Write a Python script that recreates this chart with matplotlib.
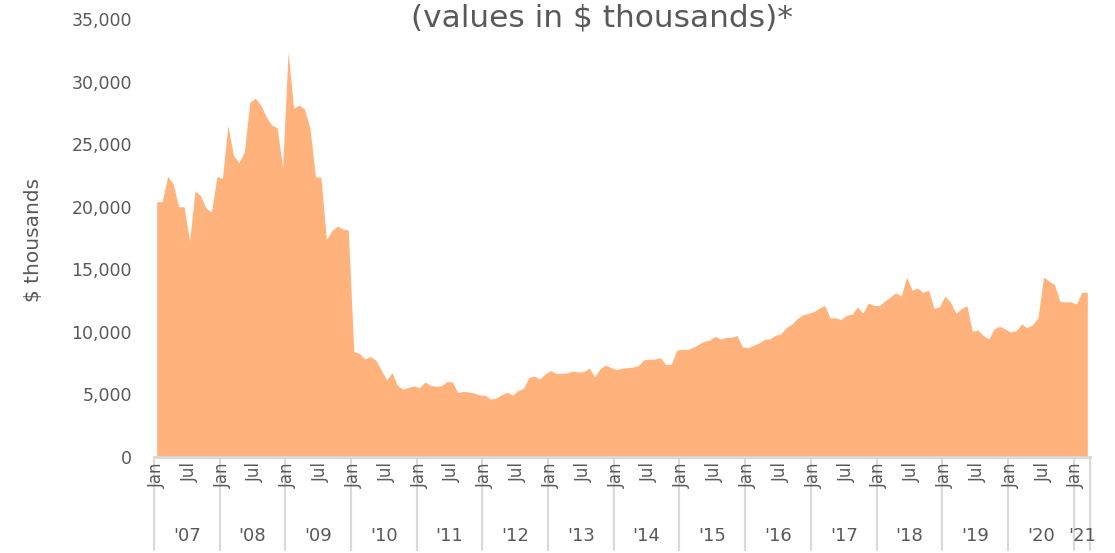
import matplotlib
matplotlib.use("Agg")
import matplotlib.pyplot as plt
from matplotlib.ticker import FuncFormatter
import matplotlib.transforms as mtransforms

# valores mensuales, ene 2007 - mar 2021 ($ miles)
v2007 = [20400, 20400, 22430, 21840, 20000, 20000, 17260, 21280, 20880, 19870, 19600, 22400]
v2008 = [22270, 26500, 24130, 23520, 24350, 28340, 28680, 28120, 27190, 26530, 26310, 23120]
v2009 = [32380, 27860, 28120, 27800, 26270, 22400, 22330, 17390, 18080, 18460, 18220, 18140]
v2010 = [8420, 8290, 7830, 8020, 7760, 6960, 6160, 6740, 5700, 5410, 5570, 5680]
v2011 = [5540, 5980, 5730, 5650, 5700, 6020, 6000, 5140, 5250, 5190, 5110, 4950]
v2012 = [4930, 4630, 4710, 4980, 5170, 4950, 5300, 5490, 6370, 6470, 6230, 6660]
v2013 = [6900, 6660, 6710, 6710, 6870, 6790, 6820, 7110, 6400, 7050, 7350, 7140]
v2014 = [6980, 7090, 7140, 7190, 7300, 7780, 7810, 7830, 7940, 7380, 7410, 8530]
v2015 = [8610, 8580, 8770, 9010, 9240, 9350, 9640, 9430, 9560, 9560, 9720, 8810]
v2016 = [8730, 8920, 9110, 9390, 9440, 9720, 9830, 10360, 10600, 11050, 11350, 11480]
v2017 = [11610, 11880, 12120, 11110, 11130, 10970, 11320, 11400, 11990, 11500, 12300, 12120]
v2018 = [12090, 12460, 12780, 13130, 12860, 14360, 13340, 13500, 13130, 13340, 11880, 12010]
v2019 = [12860, 12380, 11480, 11850, 12090, 10040, 10150, 9700, 9430, 10260, 10440, 10230]
v2020 = [9990, 10090, 10630, 10330, 10570, 11130, 14380, 14060, 13770, 12440, 12380, 12410]
v2021 = [12220, 13160, 13160]

anios = ["'07", "'08", "'09", "'10", "'11", "'12", "'13", "'14", "'15", "'16",
         "'17", "'18", "'19", "'20", "'21"]
por_anio = [v2007, v2008, v2009, v2010, v2011, v2012, v2013, v2014, v2015, v2016,
            v2017, v2018, v2019, v2020, v2021]

valores = []
for a in por_anio:
    valores += a
x = list(range(len(valores)))

gris = "#595959"
fig = plt.figure(figsize=(11.15, 5.53), dpi=100)
ax = fig.add_axes([0.1381, 0.1736, 0.8395, 0.792])

ax.fill_between(x, valores, 0, color="#FFB27B", linewidth=0)
ax.set_xlim(-0.5, len(valores) - 0.5)
ax.set_ylim(0, 35000)
ax.set_yticks(range(0, 35001, 5000))
ax.yaxis.set_major_formatter(FuncFormatter(lambda v, p: "{:,.0f}".format(v)))
ax.tick_params(axis="y", length=0, labelsize=12.5, labelcolor=gris, pad=16)
ax.set_xticks([])

for s in ["top", "right", "left"]:
    ax.spines[s].set_visible(False)
ax.spines["bottom"].set_color("#d9d9d9")
ax.spines["bottom"].set_linewidth(2)

# separadores de año y etiquetas
trans = mtransforms.blended_transform_factory(ax.transData, ax.transAxes)
inicio = 0
for nombre, a in zip(anios, por_anio):
    ax.plot([inicio - 0.5, inicio - 0.5], [0, -0.213], transform=trans,
            color="#d9d9d9", lw=1.5, clip_on=False)
    ax.text(inicio, -0.012, "Jan", transform=trans, rotation=90, ha="center",
            va="top", fontsize=12, color=gris)
    if len(a) > 6:
        ax.text(inicio + 6, -0.012, "Jul", transform=trans, rotation=90,
                ha="center", va="top", fontsize=12, color=gris)
    ax.text(inicio + (len(a) - 1) / 2, -0.18, nombre, transform=trans,
            ha="center", va="center", fontsize=13, color=gris)
    inicio += len(a)
ax.plot([inicio - 0.5, inicio - 0.5], [0, -0.213], transform=trans,
        color="#d9d9d9", lw=1.5, clip_on=False)

fig.text(0.030, 0.566, "$ thousands", rotation=90, ha="center", va="center",
         fontsize=14.5, color=gris)
fig.text(0.54, 0.967, "(values in $ thousands)*", ha="center", va="center",
         fontsize=22.5, color=gris)

fig.savefig("out.png", dpi=100)
